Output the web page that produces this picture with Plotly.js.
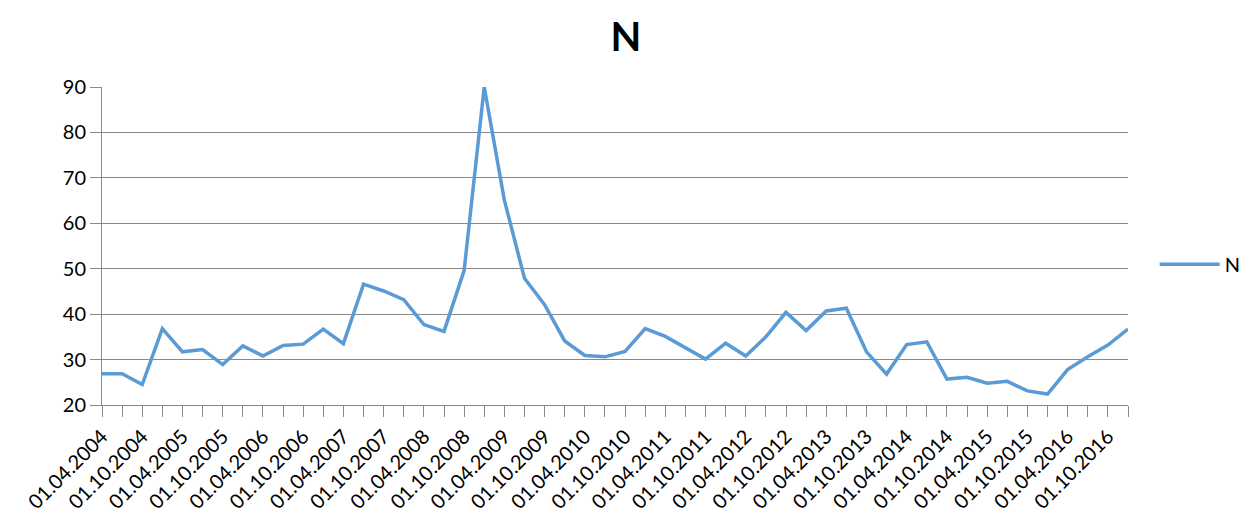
<!DOCTYPE html>
<html>
<head>
<meta charset="utf-8">
<script src="https://cdn.plot.ly/plotly-3.0.1.min.js"></script>
<style>html,body{margin:0;padding:0;background:#fff;}#chart{width:1252px;height:524px;}</style>
</head>
<body>
<div id="chart"></div>
<script>
const dates = [
  "01.04.2004","01.07.2004","01.10.2004","01.01.2005",
  "01.04.2005","01.07.2005","01.10.2005","01.01.2006",
  "01.04.2006","01.07.2006","01.10.2006","01.01.2007",
  "01.04.2007","01.07.2007","01.10.2007","01.01.2008",
  "01.04.2008","01.07.2008","01.10.2008","01.01.2009",
  "01.04.2009","01.07.2009","01.10.2009","01.01.2010",
  "01.04.2010","01.07.2010","01.10.2010","01.01.2011",
  "01.04.2011","01.07.2011","01.10.2011","01.01.2012",
  "01.04.2012","01.07.2012","01.10.2012","01.01.2013",
  "01.04.2013","01.07.2013","01.10.2013","01.01.2014",
  "01.04.2014","01.07.2014","01.10.2014","01.01.2015",
  "01.04.2015","01.07.2015","01.10.2015","01.01.2016",
  "01.04.2016","01.07.2016","01.10.2016","01.01.2017"
];
const valuesN = [
  26.9, 26.9, 24.5, 36.8,
  31.7, 32.2, 28.9, 33.0,
  30.8, 33.1, 33.4, 36.7,
  33.5, 46.6, 45.1, 43.2,
  37.7, 36.2, 49.6, 90.0,
  65.1, 47.9, 42.1, 34.1,
  30.9, 30.6, 31.8, 36.8,
  35.1, 32.5, 30.1, 33.6,
  30.8, 35.0, 40.4, 36.4,
  40.7, 41.3, 31.7, 26.8,
  33.3, 33.9, 25.7, 26.1,
  24.8, 25.2, 23.1, 22.4,
  27.8, 30.6, 33.2, 36.7
];
const tickLabels = dates.map((d, i) => (i % 2 === 0 && i < 51) ? d : "");
const yTicks = [20, 30, 40, 50, 60, 70, 80, 90];

const gray = "#898989";
const font = "Lato, 'Open Sans', sans-serif";

Plotly.newPlot("chart", [{
  x: dates,
  y: valuesN,
  type: "scatter",
  mode: "lines",
  name: "N",
  line: {color: "#5B9BD5", width: 3.5}
}], {
  width: 1252, height: 524,
  paper_bgcolor: "#fff", plot_bgcolor: "#fff",
  margin: {l: 102, r: 124, t: 87, b: 119, autoexpand: false},
  font: {family: font, size: 20, color: "#000"},
  title: {text: "<b>N</b>", font: {family: font, size: 40, color: "#000"}, x: 0.5, xanchor: "center", y: 0.93, yanchor: "middle"},
  xaxis: {
    type: "category",
    range: [0, dates.length - 1],
    tickmode: "array",
    tickvals: dates,
    ticktext: tickLabels,
    tickangle: -45,
    ticks: "outside", ticklen: 11, tickcolor: gray, tickwidth: 1,
    showline: true, linecolor: gray, linewidth: 1,
    showgrid: false, zeroline: false,
    tickfont: {family: font, size: 20, color: "#000"}
  },
  yaxis: {
    range: [20, 90],
    tickmode: "array",
    tickvals: yTicks,
    ticks: "outside", ticklen: 11, tickcolor: gray, tickwidth: 1,
    showline: true, linecolor: gray, linewidth: 1,
    showgrid: true, gridcolor: gray, gridwidth: 1,
    zeroline: false,
    tickfont: {family: font, size: 20, color: "#000"}
  },
  showlegend: true,
  legend: {x: 1.026, xanchor: "left", y: 0.443, yanchor: "middle", itemwidth: 60, font: {family: font, size: 20, color: "#000"}, bgcolor: "rgba(0,0,0,0)"}
}, {staticPlot: true});
</script>
</body>
</html>
